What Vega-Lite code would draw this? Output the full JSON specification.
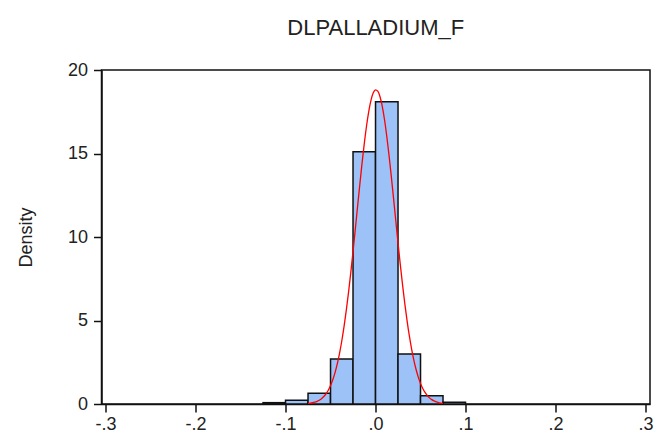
{
  "$schema": "https://vega.github.io/schema/vega-lite/v6.json",
  "width": 548.5,
  "height": 334,
  "autosize": {"type": "none"},
  "padding": {"left": 101.5, "top": 70, "right": 16, "bottom": 33},
  "background": "white",
  "title": {
    "text": "DLPALLADIUM_F",
    "font": "Liberation Sans",
    "fontSize": 22,
    "fontWeight": "normal",
    "color": "#222222",
    "anchor": "middle",
    "baseline": "alphabetic",
    "offset": 4
  },
  "config": {
    "view": {"stroke": "#111111", "strokeWidth": 1.5},
    "axis": {
      "grid": false,
      "domainColor": "#111111",
      "domainWidth": 1.5,
      "tickColor": "#111111",
      "tickWidth": 1.5,
      "tickSize": 8,
      "labelFont": "Liberation Sans",
      "labelFontSize": 18,
      "labelColor": "#222222",
      "titleFont": "Liberation Sans",
      "titleFontSize": 18,
      "titleFontWeight": "normal",
      "titleColor": "#222222"
    }
  },
  "layer": [
    {
      "data": {
        "values": [
          {"x0": -0.125, "x1": -0.1, "density": 0.08},
          {"x0": -0.1, "x1": -0.075, "density": 0.22},
          {"x0": -0.075, "x1": -0.05, "density": 0.64},
          {"x0": -0.05, "x1": -0.025, "density": 2.7},
          {"x0": -0.025, "x1": 0.0, "density": 15.1},
          {"x0": 0.0, "x1": 0.025, "density": 18.1},
          {"x0": 0.025, "x1": 0.05, "density": 3.0},
          {"x0": 0.05, "x1": 0.075, "density": 0.5},
          {"x0": 0.075, "x1": 0.1, "density": 0.1}
        ]
      },
      "mark": {"type": "rect", "fill": "#9cc2f7", "stroke": "#111111", "strokeWidth": 1.5},
      "encoding": {
        "x": {
          "field": "x0",
          "type": "quantitative",
          "scale": {"domain": [-0.3045, 0.305], "nice": false, "zero": false},
          "axis": {
            "title": null,
            "values": [-0.3, -0.2, -0.1, 0, 0.1, 0.2, 0.3],
            "labelExpr": "replace(replace(format(datum.value, '.1f'), '0.', '.'), '−', '-')",
            "labelPadding": 3
          }
        },
        "x2": {"field": "x1"},
        "y": {
          "field": "density",
          "type": "quantitative",
          "scale": {"domain": [0, 20], "nice": false},
          "axis": {
            "title": "Density",
            "values": [0, 5, 10, 15, 20],
            "format": "d",
            "labelPadding": 6,
            "titlePadding": 32
          }
        },
        "y2": {"datum": 0}
      }
    },
    {
      "data": {
        "values": [
          {"x": -0.075, "d": 0.033}, {"x": -0.0725, "d": 0.050}, {"x": -0.07, "d": 0.075},
          {"x": -0.0675, "d": 0.110}, {"x": -0.065, "d": 0.159}, {"x": -0.0625, "d": 0.227},
          {"x": -0.06, "d": 0.321}, {"x": -0.0575, "d": 0.446}, {"x": -0.055, "d": 0.611},
          {"x": -0.0525, "d": 0.827}, {"x": -0.05, "d": 1.103}, {"x": -0.0475, "d": 1.450},
          {"x": -0.045, "d": 1.881}, {"x": -0.0425, "d": 2.405}, {"x": -0.04, "d": 3.034},
          {"x": -0.0375, "d": 3.773}, {"x": -0.035, "d": 4.632}, {"x": -0.0325, "d": 5.603},
          {"x": -0.03, "d": 6.687}, {"x": -0.0275, "d": 7.869}, {"x": -0.025, "d": 9.130},
          {"x": -0.0225, "d": 10.447}, {"x": -0.02, "d": 11.793}, {"x": -0.0175, "d": 13.125},
          {"x": -0.015, "d": 14.405}, {"x": -0.0125, "d": 15.594}, {"x": -0.01, "d": 16.646},
          {"x": -0.0075, "d": 17.527}, {"x": -0.005, "d": 18.197}, {"x": -0.0025, "d": 18.632},
          {"x": 0.0, "d": 18.815}, {"x": 0.0025, "d": 18.736}, {"x": 0.005, "d": 18.401},
          {"x": 0.0075, "d": 17.822}, {"x": 0.01, "d": 17.022}, {"x": 0.0125, "d": 16.034},
          {"x": 0.015, "d": 14.895}, {"x": 0.0175, "d": 13.646}, {"x": 0.02, "d": 12.328},
          {"x": 0.0225, "d": 10.985}, {"x": 0.025, "d": 9.652}, {"x": 0.0275, "d": 8.364},
          {"x": 0.03, "d": 7.148}, {"x": 0.0325, "d": 6.024}, {"x": 0.035, "d": 5.006},
          {"x": 0.0375, "d": 4.104}, {"x": 0.04, "d": 3.317}, {"x": 0.0425, "d": 2.645},
          {"x": 0.045, "d": 2.079}, {"x": 0.0475, "d": 1.612}, {"x": 0.05, "d": 1.233},
          {"x": 0.0525, "d": 0.930}, {"x": 0.055, "d": 0.691}, {"x": 0.0575, "d": 0.507},
          {"x": 0.06, "d": 0.367}, {"x": 0.0625, "d": 0.261}, {"x": 0.065, "d": 0.184},
          {"x": 0.0675, "d": 0.127}, {"x": 0.07, "d": 0.087}, {"x": 0.0725, "d": 0.059},
          {"x": 0.075, "d": 0.039}
        ]
      },
      "mark": {"type": "line", "color": "#ff0000", "strokeWidth": 1.3, "interpolate": "monotone"},
      "encoding": {
        "x": {"field": "x", "type": "quantitative"},
        "y": {"field": "d", "type": "quantitative"}
      }
    }
  ]
}
